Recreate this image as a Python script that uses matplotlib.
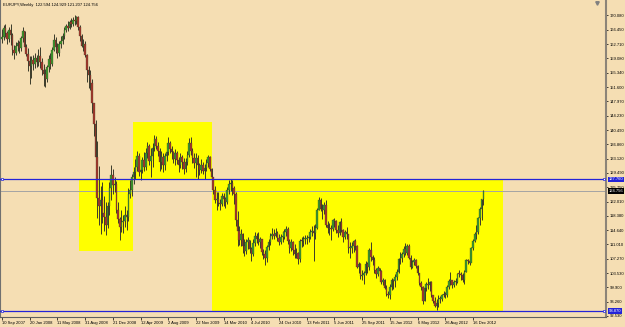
import matplotlib
matplotlib.use("Agg")
import matplotlib.pyplot as plt
import matplotlib.transforms as mtransforms
from matplotlib.patches import Rectangle
import numpy as np

plt.rcParams['font.family'] = ['Liberation Sans', 'DejaVu Sans']

# ---------------- data ----------------
symbol_title = "EURJPY,Weekly  122.594 124.929 121.207 124.756"

date_labels = ["10 Sep 2007", "20 Jan 2008", "11 May 2008", "31 Aug 2008", "21 Dec 2008",
               "12 Apr 2009", "2 Aug 2009", "22 Nov 2009", "14 Mar 2010", "4 Jul 2010",
               "24 Oct 2010", "13 Feb 2011", "5 Jun 2011", "25 Sep 2011", "15 Jan 2012",
               "6 May 2012", "26 Aug 2012", "16 Dec 2012"]
bars_per_label = 16

price_ticks = [92.530, 96.260, 99.900, 103.530, 107.270, 111.010, 114.640, 118.380,
               122.010, 125.750, 129.490, 133.120, 136.860, 140.490, 144.230, 147.970,
               151.600, 155.340, 159.080, 162.710, 166.450, 170.080]

first_open = 164.0
close = [
    164.5, 166.8, 165.5, 163.9, 166.3, 165.0, 161.2, 160.5, 162.3, 163.0, 161.6, 164.2, 166.0, 162.0, 160.2, 158.4,
    157.0, 158.5, 157.5, 159.2, 158.0, 159.7, 158.2, 156.0, 155.0, 153.7, 156.7, 158.8, 157.5, 161.3, 163.8, 162.0,
    160.5, 162.8, 163.6, 164.8, 166.3, 167.3, 166.8, 168.3, 168.0, 169.0, 168.6, 169.6, 167.0, 164.8, 162.3, 162.8,
    160.0, 156.0, 154.8, 152.6, 147.5, 142.0, 133.5, 123.0, 121.0, 122.5, 119.0, 118.2, 116.0, 120.8, 125.5, 129.0,
    126.4, 126.5, 120.0, 117.5, 115.5, 116.8, 117.0, 118.5, 118.0, 124.0, 125.0, 128.5, 129.8, 131.0, 133.8, 129.6,
    130.3, 132.8, 131.0, 134.5, 136.5, 132.5, 133.8, 136.0, 138.3, 136.5, 135.2, 132.4, 133.5, 131.5, 133.7, 134.8,
    137.3, 135.5, 134.8, 133.0, 134.6, 132.8, 131.4, 133.5, 132.2, 130.4, 132.3, 134.0, 137.2, 135.0, 133.3, 132.0,
    133.4, 131.4, 130.2, 131.5, 130.0, 130.8, 132.0, 133.5, 130.4, 128.4, 125.0, 122.5, 122.8, 121.7, 121.5, 123.5,
    122.7, 122.0, 125.0, 126.5, 126.8, 125.5, 124.0, 117.2, 114.5, 112.2, 113.8, 110.6, 109.2, 111.5, 112.1, 109.8,
    108.6, 111.3, 113.2, 112.4, 111.6, 112.3, 109.0, 108.4, 107.4, 110.3, 111.7, 113.3, 113.8, 113.2, 114.0, 112.7,
    111.7, 112.9, 113.0, 114.2, 115.1, 112.0, 110.0, 111.5, 109.6, 108.4, 108.7, 107.2, 112.0, 111.8, 112.3, 112.5,
    112.6, 112.8, 114.2, 114.5, 114.0, 115.3, 120.0, 122.4, 120.2, 120.0, 121.3, 116.0, 115.3, 115.0, 114.9, 117.2,
    117.0, 114.6, 113.9, 116.7, 114.8, 113.0, 114.1, 113.6, 110.0, 110.1, 110.5, 112.0, 110.6, 105.3, 105.9, 102.9,
    103.0, 103.6, 106.0, 105.3, 109.6, 107.7, 107.0, 104.4, 103.3, 104.9, 104.2, 101.4, 101.7, 99.7, 98.2, 98.0,
    100.0, 101.7, 101.5, 102.5, 104.0, 107.3, 107.6, 108.4, 109.9, 108.9, 110.6, 107.6, 105.3, 106.4, 107.0, 105.5,
    103.5, 101.0, 100.0, 96.5, 99.7, 100.8, 100.4, 101.2, 97.9, 96.3, 95.0, 96.0, 96.8, 96.9, 97.9, 98.2,
    98.0, 100.0, 101.6, 101.7, 100.5, 101.2, 101.4, 103.4, 103.3, 103.0, 101.8, 104.0, 106.9, 106.8, 106.3, 110.0,
    111.8, 113.7, 114.3, 117.9, 120.2, 122.594, 124.756]
high = [
    166.5, 167.6, 167.8, 166.2, 167.0, 168.0, 165.6, 162.5, 163.3, 163.8, 163.5, 164.8, 167.0, 166.2, 162.8, 161.6,
    159.5, 159.5, 160.0, 160.3, 160.0, 161.5, 162.0, 159.0, 157.5, 156.3, 157.3, 159.8, 160.5, 162.0, 165.4, 164.5,
    163.0, 163.5, 164.8, 165.5, 167.2, 168.0, 168.6, 168.9, 169.5, 169.8, 170.2, 170.0, 169.9, 167.5, 165.3, 163.9,
    163.5, 160.2, 157.0, 156.0, 153.8, 147.5, 143.0, 137.6, 131.2, 126.0, 127.0, 123.5, 122.0, 122.0, 127.0, 131.5,
    130.5, 128.5, 127.3, 122.0, 118.0, 120.0, 118.5, 121.0, 120.0, 125.5, 127.5, 129.2, 131.0, 133.0, 135.0, 134.5,
    132.2, 133.5, 134.8, 135.8, 137.5, 136.8, 136.0, 137.2, 139.2, 139.0, 137.5, 135.8, 135.0, 134.5, 134.5, 135.5,
    138.8, 137.8, 136.5, 135.2, 135.5, 135.0, 133.5, 134.5, 134.2, 133.3, 133.4, 135.0, 138.5, 138.8, 136.0, 134.5,
    134.5, 134.0, 132.0, 133.0, 132.2, 131.8, 133.0, 134.0, 133.8, 130.8, 128.5, 126.0, 124.5, 124.5, 122.8, 124.3,
    124.2, 123.3, 125.8, 127.5, 127.8, 127.5, 126.2, 124.5, 119.5, 115.8, 115.0, 114.0, 112.4, 112.3, 113.0, 112.2,
    110.3, 112.5, 114.3, 114.0, 114.2, 113.0, 112.5, 109.8, 109.5, 110.8, 112.5, 114.0, 115.3, 115.0, 115.2, 114.5,
    113.8, 113.8, 114.5, 115.0, 115.8, 115.4, 112.5, 112.4, 111.8, 111.0, 110.2, 109.0, 112.5, 112.8, 113.2, 113.4,
    113.5, 114.0, 115.0, 115.8, 116.0, 116.3, 120.3, 123.3, 123.0, 121.5, 122.0, 122.5, 117.0, 116.5, 116.0, 117.5,
    117.9, 117.2, 116.0, 117.0, 117.8, 115.0, 114.8, 115.5, 113.8, 111.5, 111.5, 112.2, 112.5, 110.8, 106.5, 106.3,
    104.5, 104.2, 106.6, 106.5, 110.2, 111.6, 108.2, 107.8, 104.8, 105.5, 105.0, 104.3, 102.3, 102.0, 100.5, 99.0,
    100.8, 102.3, 102.0, 103.4, 104.6, 107.6, 109.0, 109.0, 110.6, 111.4, 111.0, 111.2, 108.3, 107.0, 107.5, 107.3,
    105.8, 103.6, 101.5, 100.2, 100.0, 101.4, 102.3, 101.5, 101.5, 98.0, 97.5, 96.8, 98.0, 97.6, 98.3, 99.1,
    98.6, 100.6, 102.0, 103.9, 101.9, 101.8, 102.3, 103.6, 104.4, 103.9, 103.6, 104.3, 107.2, 107.2, 107.8, 110.3,
    112.5, 114.2, 116.0, 118.2, 120.7, 122.8, 124.929]
low = [
    163.0, 163.8, 164.5, 162.8, 163.2, 162.4, 159.8, 158.8, 159.8, 160.8, 160.5, 161.0, 163.2, 161.5, 159.5, 155.8,
    152.5, 154.0, 156.0, 156.5, 156.7, 157.0, 156.6, 154.8, 152.0, 151.5, 153.0, 155.5, 156.2, 157.0, 160.8, 160.5,
    159.2, 159.5, 161.8, 162.6, 164.0, 165.8, 166.0, 166.5, 167.0, 167.3, 167.6, 167.8, 166.3, 163.5, 162.0, 160.9,
    159.4, 153.0, 151.4, 150.8, 145.0, 139.0, 130.5, 117.8, 116.0, 113.8, 116.5, 114.5, 113.5, 115.2, 118.5, 122.5,
    124.0, 124.5, 119.0, 116.6, 112.1, 114.3, 114.0, 115.5, 114.8, 117.0, 123.0, 123.5, 126.5, 128.0, 130.0, 128.6,
    127.5, 129.5, 130.0, 130.3, 133.2, 131.5, 128.5, 131.0, 135.0, 135.5, 133.8, 130.0, 130.5, 129.8, 130.3, 132.5,
    134.0, 134.5, 133.0, 132.0, 131.5, 131.8, 129.6, 130.8, 130.5, 129.3, 129.8, 131.5, 133.6, 134.0, 132.0, 130.7,
    128.5, 128.0, 129.0, 129.5, 129.2, 128.0, 130.0, 131.0, 130.0, 126.5, 124.0, 121.8, 120.0, 120.8, 119.8, 121.0,
    121.0, 120.5, 121.5, 124.0, 124.8, 123.8, 121.5, 115.8, 110.5, 110.8, 110.5, 108.8, 108.1, 108.5, 109.8, 108.7,
    106.8, 108.0, 110.5, 111.3, 110.8, 110.2, 108.3, 107.3, 105.8, 106.5, 109.5, 110.8, 112.4, 112.5, 112.8, 111.8,
    110.8, 111.1, 111.5, 112.4, 113.2, 111.2, 108.8, 109.2, 108.2, 107.6, 107.5, 106.0, 106.5, 110.3, 110.5, 111.0,
    111.0, 111.6, 112.3, 113.2, 106.6, 112.5, 115.0, 119.8, 119.5, 117.6, 118.8, 115.4, 114.0, 113.5, 112.2, 114.4,
    115.5, 114.0, 112.8, 113.4, 114.1, 111.5, 112.3, 112.5, 108.8, 107.5, 108.9, 109.0, 109.6, 105.0, 103.7, 102.2,
    101.8, 100.8, 103.2, 103.5, 104.4, 106.8, 105.8, 103.7, 102.3, 102.8, 102.9, 100.9, 100.6, 99.4, 97.8, 97.3,
    97.0, 99.2, 99.6, 100.0, 101.8, 103.5, 106.0, 106.5, 107.7, 108.3, 108.2, 107.2, 104.7, 104.9, 105.6, 105.0,
    103.0, 100.5, 99.3, 95.6, 96.5, 98.9, 99.6, 99.0, 97.5, 96.0, 94.9, 94.1, 94.8, 95.9, 96.5, 97.4,
    97.2, 97.4, 99.4, 100.6, 99.8, 99.9, 100.5, 101.0, 102.6, 101.9, 101.4, 100.9, 103.8, 105.9, 105.8, 106.4,
    109.6, 111.7, 112.3, 113.6, 116.0, 117.3, 121.207]

level_high = 127.760
level_low = 93.870
bid_price = 124.756
# yellow zones: (first bar, last bar, low price, high price)
zone_bars = [(44.5, 75.6), (75.6, 121.0), (121.0, 289.5)]
zone_prices = [(109.3, 127.76), (127.76, 142.6), (93.87, 127.76)]

# ---------------- drawing ----------------
BG = '#F5DEB3'
W, H = 625, 327
fig = plt.figure(figsize=(W / 100, H / 100), dpi=100)
fig.patch.set_facecolor(BG)
ax = fig.add_axes([0, 10 / H, 606 / W, 317 / H])
ax.set_facecolor(BG)
ax.set_xlim(-1.155, 348.8)
ax.set_ylim(92.27, 174.08)

for (b0, b1), (p0, p1) in zip(zone_bars, zone_prices):
    ax.add_patch(Rectangle((b0, p0), b1 - b0, p1 - p0, facecolor='#FFFF00',
                           edgecolor='none', zorder=1))

c = np.array(close)
h = np.array(high)
l = np.array(low)
o = np.concatenate([[first_open], c[:-1]])
x = np.arange(len(c))
up = c >= o

ax.axhline(bid_price, color='#a4a4a4', lw=0.7, zorder=2)

ax.vlines(x, l, h, colors='#3b3a2a', lw=0.7, zorder=3)
bottom = np.minimum(o, c)
height = np.maximum(np.abs(c - o), 0.25)
ax.bar(x[up], height[up], bottom=bottom[up], width=0.9, color='#3c9a2c',
       edgecolor='#3b3a2a', lw=0.2, zorder=4)
ax.bar(x[~up], height[~up], bottom=bottom[~up], width=0.9, color='#a5372a',
       edgecolor='#3b3a2a', lw=0.2, zorder=4)

BLUE = '#2323d8'
for lv in (level_high, level_low):
    ax.axhline(lv, color=BLUE, lw=0.9, zorder=5)
    ax.plot([-0.2, 347.4], [lv, lv], 's', ms=2.0, mfc='white', mec=BLUE, mew=0.5,
            zorder=6, clip_on=False)

# axes styling
ax.spines['top'].set_visible(False)
ax.spines['left'].set_color('#707070')
ax.spines['left'].set_linewidth(0.8)
ax.spines['bottom'].set_color('#606060')
ax.spines['bottom'].set_linewidth(0.8)
ax.spines['right'].set_color('#8c8478')
ax.spines['right'].set_linewidth(1.5)

ax.yaxis.tick_right()
ax.set_yticks(price_ticks)
ax.set_yticklabels([f"{v:.3f}" for v in price_ticks])
ax.tick_params(axis='y', length=1.5, width=0.5, pad=1, labelsize=3, colors='black')

ax.set_xticks(np.arange(len(date_labels)) * bars_per_label)
ax.set_xticklabels(date_labels)
for t in ax.get_xticklabels():
    t.set_horizontalalignment('left')
ax.tick_params(axis='x', length=2, width=0.5, pad=1, labelsize=3, colors='black')

ytr = ax.get_yaxis_transform()
for lv, txt, col in ((level_high, f"{level_high:.3f}", BLUE),
                     (bid_price, f"{bid_price:.3f}", 'black'),
                     (level_low, f"{level_low:.3f}", BLUE)):
    ax.text(1.0 + 3 / 606, lv, txt, transform=ytr, fontsize=3, color='white',
            va='center', ha='left', zorder=10, clip_on=False,
            bbox=dict(boxstyle='square,pad=0.2', fc=col, ec='none'))

fig.text(3 / W, 1 - 5 / H, symbol_title, fontsize=3, color='black', va='center', ha='left')

bt = mtransforms.blended_transform_factory(ax.transData, ax.transAxes)
ax.plot([343.6], [0.99], marker='v', ms=2.5, color='#808080', transform=bt,
        clip_on=False, zorder=10)

fig.savefig('out.png', dpi=100, facecolor=BG)
